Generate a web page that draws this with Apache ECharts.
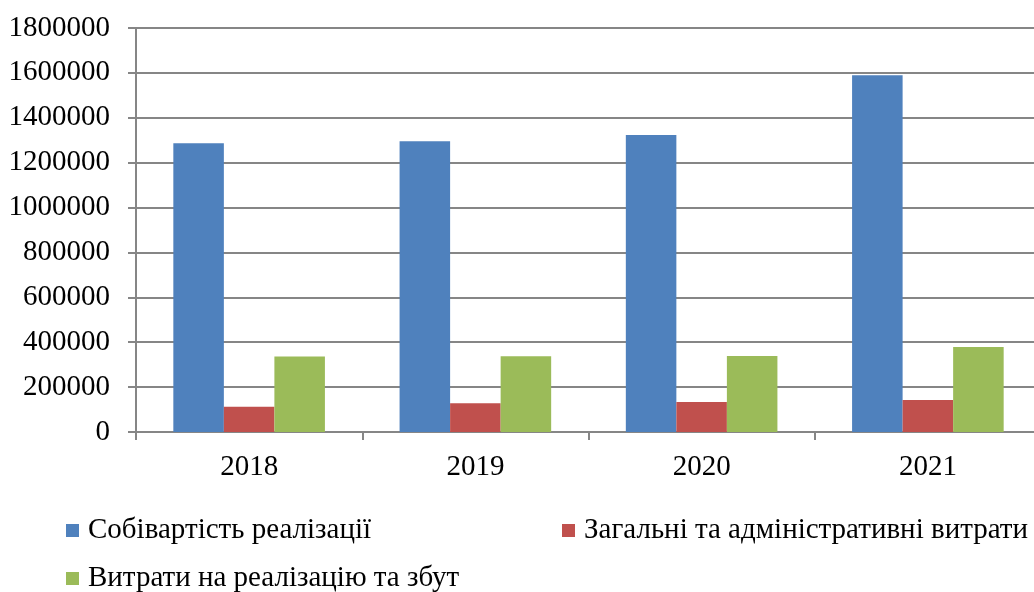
<!DOCTYPE html>
<html>
<head>
  <meta charset="utf-8">
  <title>Витрати</title>
  <script src="https://cdn.jsdelivr.net/npm/echarts@6/dist/echarts.min.js"></script>
  <style>
    html, body { margin: 0; padding: 0; background: #fff; overflow: hidden; }
    #chart { width: 1041px; height: 592px; }
  </style>
</head>
<body>
  <div id="chart"></div>
  <script>
    // дані
    var years = ['2018', '2019', '2020', '2021'];
    var sobivartist = [1286000, 1295000, 1323000, 1590000];
    var zagalni = [113000, 128000, 134000, 143000];
    var vytratyZbut = [336000, 337000, 339000, 379000];
    var seriesNames = ['Собівартість реалізації', 'Загальні та адміністративні витрати', 'Витрати на реалізацію та збут'];
    var colors = ['#4F81BD', '#C0504D', '#9BBB59'];

    var font = "'Liberation Serif', 'Times New Roman', serif";
    var chart = echarts.init(document.getElementById('chart'));

    // окрема легенда для кожного ряду, щоб розставити як в оригіналі
    function legendAt(name, left, top) {
      return {
        data: [name],
        left: left,
        top: top,
        icon: 'rect',
        itemWidth: 13,
        itemHeight: 13,
        itemGap: 0,
        padding: 0,
        textStyle: { fontFamily: font, fontSize: 29, color: '#000', padding: [0, 0, 0, 4] }
      };
    }

    var option = {
      animation: false,
      color: colors,
      textStyle: { fontFamily: font },
      grid: { left: 136, top: 28, bottom: 160, right: 0 },
      legend: [
        legendAt(seriesNames[0], 66, 516),
        legendAt(seriesNames[1], 562, 516),
        legendAt(seriesNames[2], 66, 564)
      ],
      xAxis: {
        type: 'category',
        data: years,
        axisLine: { lineStyle: { color: '#868686', width: 2 } },
        axisTick: { show: true, length: 8, lineStyle: { color: '#868686', width: 2 } },
        axisLabel: { fontFamily: font, fontSize: 29, color: '#000', margin: 21 }
      },
      yAxis: {
        type: 'value',
        min: 0,
        max: 1800000,
        interval: 200000,
        axisLine: { show: true, lineStyle: { color: '#868686', width: 2 } },
        axisTick: { show: true, length: 8, lineStyle: { color: '#868686', width: 2 } },
        splitLine: { lineStyle: { color: '#868686', width: 2 } },
        axisLabel: {
          fontFamily: font, fontSize: 29, color: '#000', margin: 26,
          formatter: function (v) { return String(v); }
        }
      },
      series: [
        { name: seriesNames[0], type: 'bar', data: sobivartist, barGap: '0%', barCategoryGap: '33%' },
        { name: seriesNames[1], type: 'bar', data: zagalni, barGap: '0%', barCategoryGap: '33%' },
        { name: seriesNames[2], type: 'bar', data: vytratyZbut, barGap: '0%', barCategoryGap: '33%' }
      ]
    };
    chart.setOption(option);
  </script>
</body>
</html>
